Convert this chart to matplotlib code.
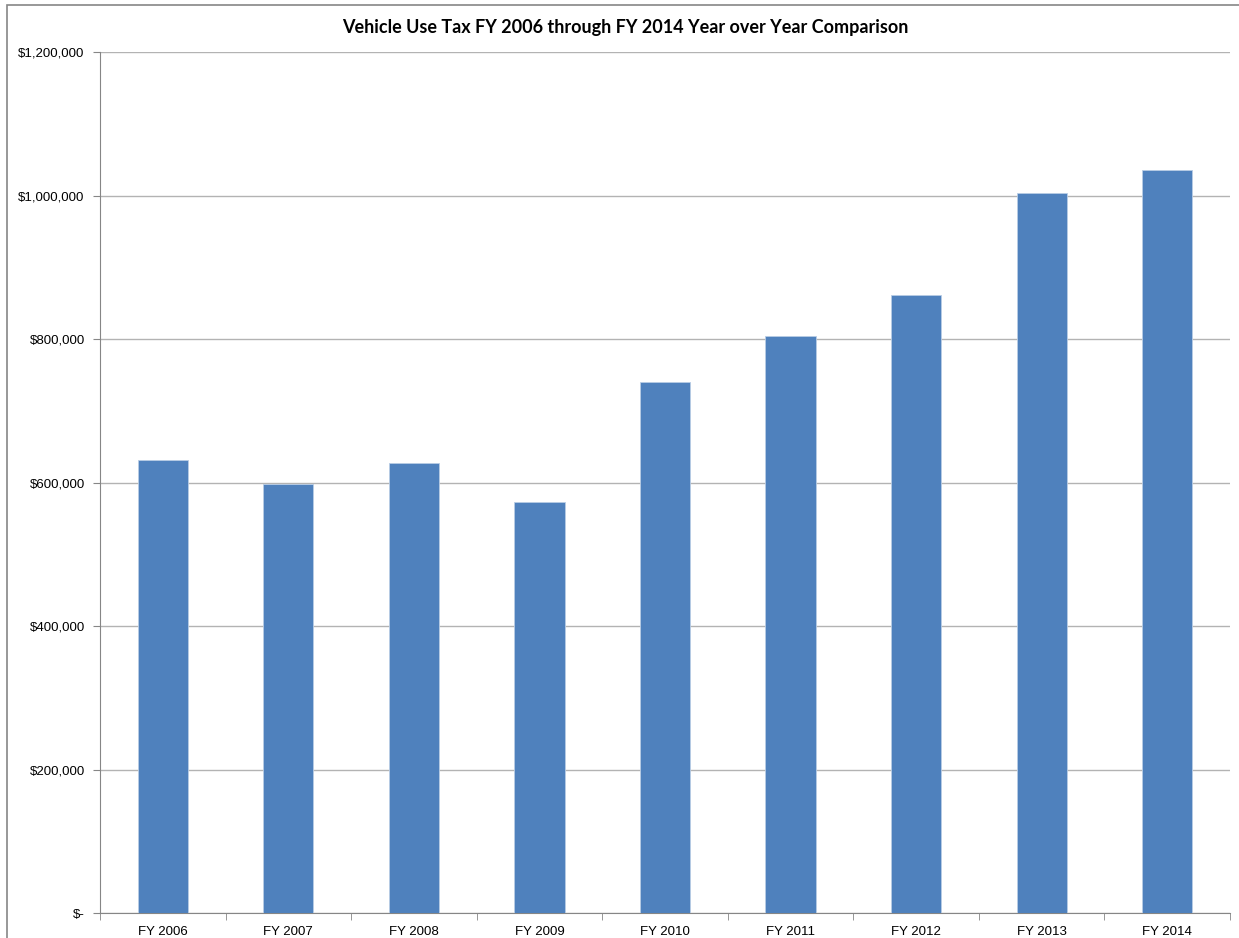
import numpy as np
import matplotlib.pyplot as plt
from matplotlib.patches import Rectangle
from matplotlib.ticker import FuncFormatter

years = ['FY 2006', 'FY 2007', 'FY 2008', 'FY 2009', 'FY 2010',
         'FY 2011', 'FY 2012', 'FY 2013', 'FY 2014']
tax = [631400, 598300, 628000, 573200, 740900, 805000, 861700, 1003500, 1036000]
yticks = [0, 200000, 400000, 600000, 800000, 1000000, 1200000]

fig = plt.figure(figsize=(12.39, 9.38), dpi=100)
ax = fig.add_axes([100 / 1239, 1 - 913.3 / 938, 1130 / 1239, 861 / 938])

# chart border
fig.patches.append(Rectangle((7 / 1239, -0.01), 1.1, 1 - 5 / 938 + 0.01,
                             transform=fig.transFigure, fill=False,
                             edgecolor='#868686', lw=1.2))

x = np.arange(len(years))
ax.bar(x, tax, width=0.4, color='#4f81bd', edgecolor='#b9cde5', lw=0.6, zorder=3)

ax.set_xlim(-0.5, len(years) - 0.5)
ax.set_ylim(0, 1200000)
ax.set_yticks(yticks)
ax.yaxis.set_major_formatter(FuncFormatter(
    lambda v, p: '$-' if v == 0 else '${:,.0f}'.format(v)))
ax.grid(axis='y', color='#b3b3b3', lw=1, zorder=0)

ax.set_xticks(x)
ax.set_xticklabels(years)
ax.set_xticks(np.arange(-0.5, len(years)), minor=True)
ax.tick_params(axis='x', which='major', length=0, pad=9)
ax.tick_params(axis='x', which='minor', length=5, color='#868686')
ax.tick_params(axis='y', length=5, color='#868686', pad=6)
for lbl in ax.get_xticklabels() + ax.get_yticklabels():
    lbl.set_fontfamily('Liberation Sans')
    lbl.set_fontsize(9.5)

for side in ['top', 'right']:
    ax.spines[side].set_visible(False)
for side in ['left', 'bottom']:
    ax.spines[side].set_color('#868686')

fig.text(0.5 * (342 + 908) / 1239, 1 - 28 / 938,
         'Vehicle Use Tax FY 2006 through FY 2014 Year over Year Comparison',
         ha='center', va='center', fontsize=13, fontweight='bold',
         family='Lato')

fig.savefig('out.png', dpi=100)
